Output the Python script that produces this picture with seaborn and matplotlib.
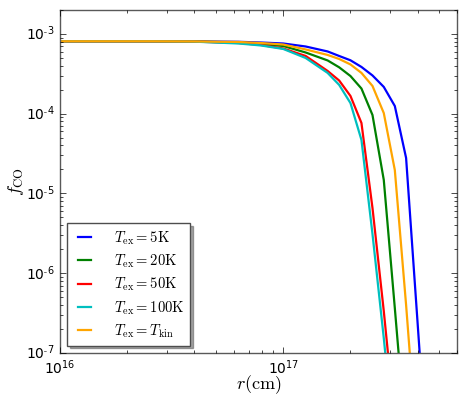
import seaborn as sns
import matplotlib.pyplot as plt
import numpy as np
import pandas as pd
from matplotlib.ticker import FuncFormatter

# radius grid (cm)
r_cm = [1.0e16, 1.58e16, 2.51e16, 3.98e16, 6.31e16, 7.94e16, 1.0e17, 1.26e17,
        1.58e17, 1.78e17, 2.0e17, 2.24e17, 2.51e17, 2.82e17, 3.16e17, 3.55e17,
        3.98e17, 4.47e17]

# CO abundance for each excitation temperature
f_5K = [8.1e-4, 8.1e-4, 8.1e-4, 8.08e-4, 7.98e-4, 7.82e-4, 7.6e-4, 6.97e-4,
        6.04e-4, 5.30e-4, 4.68e-4, 3.86e-4, 3.02e-4, 2.17e-4, 1.25e-4, 2.79e-5,
        2.83e-7, 2.6e-9]
f_20K = [8.1e-4, 8.1e-4, 8.1e-4, 8.05e-4, 7.82e-4, 7.49e-4, 7.07e-4, 5.86e-4,
         4.66e-4, 3.82e-4, 2.97e-4, 2.07e-4, 9.64e-5, 1.48e-5, 3.66e-7, 7.7e-9]
f_50K = [8.1e-4, 8.1e-4, 8.1e-4, 8.03e-4, 7.71e-4, 7.28e-4, 6.58e-4, 5.30e-4,
         3.44e-4, 2.61e-4, 1.67e-4, 7.66e-5, 6.58e-6, 3.36e-7, 1.36e-8]
f_100K = [8.1e-4, 8.1e-4, 8.1e-4, 8.02e-4, 7.6e-4, 7.18e-4, 6.49e-4, 5.0e-4,
          3.25e-4, 2.30e-4, 1.36e-4, 4.69e-5, 3.10e-6, 1.54e-7, 6.2e-9]
f_Tkin = [8.1e-4, 8.1e-4, 8.1e-4, 8.06e-4, 7.94e-4, 7.71e-4, 7.38e-4, 6.40e-4,
          5.46e-4, 4.86e-4, 4.15e-4, 3.25e-4, 2.23e-4, 1.02e-4, 1.97e-5, 4.0e-7,
          6.1e-9]

models = ['5K', '20K', '50K', '100K', 'Tkin']
series = [f_5K, f_20K, f_50K, f_100K, f_Tkin]
labels = [r'$T_{\rm ex} = 5{\rm K}$', r'$T_{\rm ex} = 20{\rm K}$',
          r'$T_{\rm ex} = 50{\rm K}$', r'$T_{\rm ex} = 100{\rm K}$',
          r'$T_{\rm ex} = T_{\rm kin}$']
colors = ['b', 'g', 'r', 'c', 'orange']

rows = []
for m, f in zip(models, series):
    for r, v in zip(r_cm, f):
        rows.append({'r': r, 'f': v, 'model': m})
df = pd.DataFrame(rows)

plt.style.use('classic')
plt.rcParams['mathtext.fontset'] = 'cm'
plt.rcParams['font.size'] = 10

fig = plt.figure(figsize=(4.63, 3.96), dpi=100, facecolor='white')
ax = fig.add_axes([0.1296, 0.1086, 0.8574, 0.8662])
ax.set_xscale('log')
ax.set_yscale('log')

sns.lineplot(data=df, x='r', y='f', hue='model', hue_order=models,
             palette=colors, lw=1.6, legend=False, ax=ax)

ax.set_xlim(1e16, 6e17)
ax.set_ylim(1e-7, 2e-3)

# old-style exponent labels with a short hyphen
def exp_label(v, pos):
    e = int(round(np.log10(v)))
    if e < 0:
        return r'$\mathdefault{10^{\text{-}%d}}$' % (-e)
    return r'$\mathdefault{10^{%d}}$' % e

ax.yaxis.set_major_formatter(FuncFormatter(exp_label))
ax.set_xlabel(r'$r ({\rm cm})$', fontsize=13, labelpad=-2.5)
ax.set_ylabel(r'$f_{\rm CO}$', fontsize=13, labelpad=0)
ax.tick_params(labelsize=10)
for s in ax.spines.values():
    s.set_edgecolor('0.35')

leg = ax.legend(ax.lines[:5], labels, loc='lower left', shadow=True,
                fancybox=False, fontsize=10.5, labelspacing=0.4,
                handlelength=1.5, handletextpad=1.3)
leg.get_frame().set_edgecolor('0.3')

fig.savefig('out.png', dpi=100, facecolor='white')
